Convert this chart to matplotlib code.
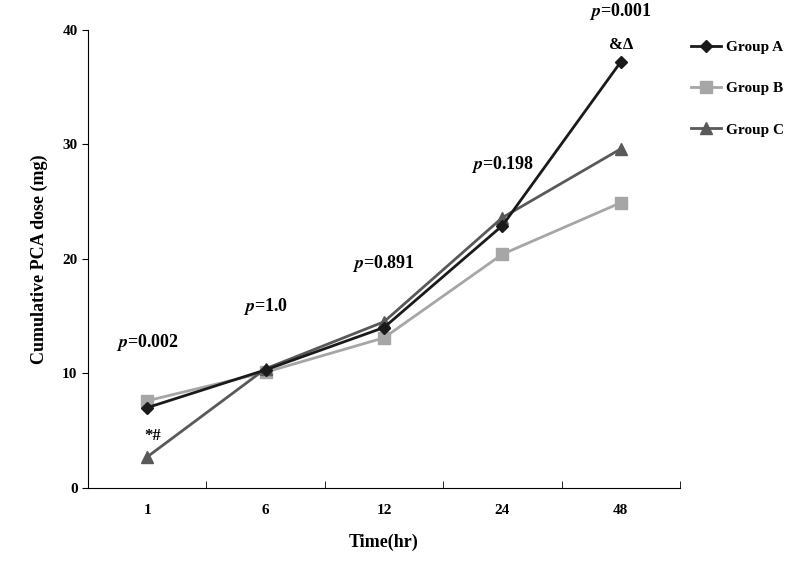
import matplotlib
matplotlib.use("Agg")
import matplotlib.pyplot as plt

plt.rcParams["font.family"] = "Liberation Serif"
plt.rcParams["font.weight"] = "bold"
plt.rcParams["mathtext.fontset"] = "stix"

times = ["1", "6", "12", "24", "48"]
group_a = [7.0, 10.3, 14.0, 22.9, 37.2]
group_b = [7.6, 10.1, 13.1, 20.4, 24.9]
group_c = [2.7, 10.4, 14.5, 23.6, 29.6]
p_labels = ["0.002", "1.0", "0.891", "0.198", "0.001"]
p_y = [12.7, 15.8, 19.6, 28.2, 41.6]

fig = plt.figure(figsize=(8, 5.62), dpi=100)
ax = fig.add_axes([0.11, 0.132, 0.74, 0.815])
x = list(range(len(times)))
ax.plot(x, group_a, color="#1a1a1a", marker="D", ms=6, lw=2, label="Group A", zorder=3)
ax.plot(x, group_b, color="#a6a6a6", marker="s", ms=8, lw=2, label="Group B", zorder=2)
ax.plot(x, group_c, color="#595959", marker="^", ms=8, lw=2, label="Group C", zorder=2)

for xi, (lab, yy) in enumerate(zip(p_labels, p_y)):
    ax.text(xi, yy, r"$\mathbf{\it{p}}$" + "=" + lab, ha="center", va="center", fontsize=13, fontweight="bold", clip_on=False)
ax.text(0.05, 4.5, "*#", ha="center", va="center", fontsize=12, fontweight="bold")
ax.text(4, 38.7, "&Δ", ha="center", va="center", fontsize=12, fontweight="bold")

ax.set_xlim(-0.5, 4.5)
ax.set_ylim(0, 40)
ax.set_xticks(x)
ax.set_xticklabels(times)
ax.set_xticks([-0.5, 0.5, 1.5, 2.5, 3.5, 4.5], minor=True)
ax.tick_params(axis="x", which="major", length=0, pad=12, labelsize=11)
ax.tick_params(axis="x", which="minor", length=5, direction="in")
ax.set_yticks([0, 10, 20, 30, 40])
ax.tick_params(axis="y", direction="out", length=4, labelsize=11)
for s in ["top", "right"]:
    ax.spines[s].set_visible(False)
ax.set_xlabel("Time(hr)", fontsize=13, fontweight="bold", labelpad=12)
ax.set_ylabel("Cumulative PCA dose (mg)", fontsize=13, fontweight="bold", labelpad=10)
ax.legend(loc="upper left", bbox_to_anchor=(1.0, 1.0), frameon=False, fontsize=11,
          labelspacing=1.8, handlelength=2.0, handletextpad=0.3, borderaxespad=0.3)
fig.savefig("out.png", dpi=100)
